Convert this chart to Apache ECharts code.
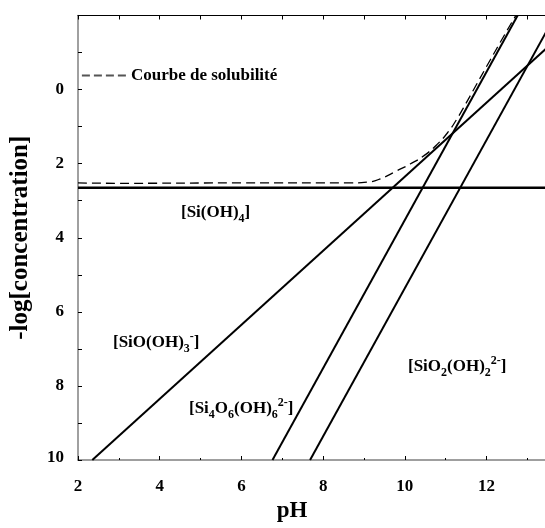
<!DOCTYPE html>
<html>
<head>
<meta charset="utf-8">
<script src="https://cdn.jsdelivr.net/npm/echarts@6/dist/echarts.min.js"></script>
<style>html,body{margin:0;padding:0;background:#fff}#c{width:545px;height:528px}</style>
</head>
<body>
<div id="c"></div>
<script>
// pH values and -log[concentration] values
const siOH4_pH = [2, 14];
const siOH4_val = [2.65, 2.65];
const siOOH3_pH = [2.35, 14];
const siOOH3_val = [10, -1.65];
const si4O6_pH = [6.76, 12.76];
const si4O6_val = [10, -2];
const siO2OH2_pH = [7.68, 13.68];
const siO2OH2_val = [10, -2];
const solub_pH = [2, 3, 6, 8.7, 9.08, 9.40, 9.81, 10.13, 10.46, 10.79, 11.07, 11.27, 11.43, 11.76, 12.09, 12.41, 12.70, 12.72];
const solub_val = [2.52, 2.53, 2.52, 2.52, 2.50, 2.41, 2.19, 2.01, 1.79, 1.48, 1.13, 0.80, 0.50, -0.15, -0.80, -1.42, -1.97, -2];
const xTicks = [2, 4, 6, 8, 10, 12];
const yTicks = [0, 2, 4, 6, 8, 10];
const legendName = 'Courbe de solubilité';

const zip = (a, b) => a.map((v, i) => [v, b[i]]);
const FONT = 'Liberation Serif';
const XMAX = 13.43;
const chart = echarts.init(document.getElementById('c'), null, {renderer: 'canvas'});

const rich = {
  b: {fontFamily: FONT, fontWeight: 'bold', fontSize: 17, color: '#000', verticalAlign: 'middle', lineHeight: 24},
  s: {fontFamily: FONT, fontWeight: 'bold', fontSize: 12, color: '#000', verticalAlign: 'bottom', lineHeight: 24},
  p: {fontFamily: FONT, fontWeight: 'bold', fontSize: 12, color: '#000', verticalAlign: 'top', lineHeight: 24}
};
function lab(x, y, text) {
  return {type: 'text', x: x, y: y, silent: true, style: {text: text, rich: rich, align: 'left', verticalAlign: 'middle'}};
}

const solid = (name, d, w) => ({
  name: name, type: 'line', data: d, symbol: 'none', silent: true, clip: true,
  lineStyle: {color: '#000', width: w}, itemStyle: {color: '#000'}, z: 3
});

chart.setOption({
  animation: false,
  backgroundColor: '#fff',
  grid: {left: 76.5, right: 0, top: 15.5, bottom: 60.5, containLabel: false},
  legend: {
    data: [legendName], left: 81, top: 67, padding: 0, itemWidth: 44, itemHeight: 14, itemGap: 6,
    selectedMode: false,
    itemStyle: {opacity: 0},
    lineStyle: {color: '#555', width: 1.8, type: [8, 4]},
    textStyle: {fontFamily: FONT, fontWeight: 'bold', fontSize: 17, color: '#000'}
  },
  xAxis: [{
    type: 'value', min: 2, max: XMAX, interval: 1,
    name: 'pH', nameLocation: 'middle', nameGap: 40,
    nameTextStyle: {fontFamily: FONT, fontWeight: 'bold', fontSize: 23, color: '#000', padding: [0, 39, 0, 0]},
    axisLine: {show: true, onZero: false, lineStyle: {color: '#808080', width: 1.5}},
    axisTick: {show: true, inside: true, length: 2, lineStyle: {color: '#000', width: 1}},
    splitLine: {show: false},
    axisLabel: {margin: 18, fontFamily: FONT, fontWeight: 'bold', fontSize: 17, color: '#000',
      showMaxLabel: false,
      formatter: v => xTicks.indexOf(v) >= 0 ? String(v) : ''}
  }, {
    type: 'value', position: 'top', min: 2, max: XMAX, interval: 1,
    axisLine: {show: true, onZero: false, lineStyle: {color: '#000', width: 1}},
    axisTick: {show: true, inside: true, length: 4, lineStyle: {color: '#000', width: 1}},
    axisLabel: {show: false}, splitLine: {show: false}
  }, {
    type: 'value', position: 'bottom', min: 2, max: XMAX, interval: 2,
    axisLine: {show: false, onZero: false},
    axisTick: {show: true, inside: true, length: 4, lineStyle: {color: '#000', width: 1}},
    axisLabel: {show: false}, splitLine: {show: false}
  }],
  yAxis: {
    type: 'value', min: -2, max: 10, interval: 2, inverse: true,
    name: '-log[concentration]', nameLocation: 'middle', nameGap: 45, nameRotate: 90,
    nameTextStyle: {fontFamily: FONT, fontWeight: 'bold', fontSize: 25, color: '#000'},
    axisLine: {show: true, onZero: false, lineStyle: {color: '#808080', width: 1.5}},
    axisTick: {show: true, inside: true, length: 4, lineStyle: {color: '#000', width: 1}},
    minorTick: {show: true, splitNumber: 2, length: 4, lineStyle: {color: '#000', width: 1}},
    splitLine: {show: false},
    axisLabel: {margin: 14, fontFamily: FONT, fontWeight: 'bold', fontSize: 17, color: '#000',
      formatter: v => v === 10 ? '{u|10}' : (yTicks.indexOf(v) >= 0 ? String(v) : ''),
      rich: {u: {fontFamily: FONT, fontWeight: 'bold', fontSize: 17, color: '#000', padding: [0, 0, 5, 0]}}}
  },
  series: [
    solid('Si(OH)4', zip(siOH4_pH, siOH4_val), 2.4),
    solid('SiO(OH)3', zip(siOOH3_pH, siOOH3_val), 2),
    solid('Si4O6(OH)6', zip(si4O6_pH, si4O6_val), 2),
    solid('SiO2(OH)2', zip(siO2OH2_pH, siO2OH2_val), 2),
    {
      name: legendName, type: 'line', data: zip(solub_pH, solub_val), symbol: 'none', silent: true,
      smooth: 0.5, clip: true, z: 4,
      itemStyle: {color: '#000'},
      lineStyle: {color: '#000', width: 1.3, type: [9, 5]}
    }
  ],
  graphic: [
    lab(181, 213, '{b|[Si(OH)}{s|4}{b|]}'),
    lab(113, 343, '{b|[SiO(OH)}{s|3}{p|-}{b|]}'),
    lab(189, 409, '{b|[Si}{s|4}{b|O}{s|6}{b|(OH)}{s|6}{p|2-}{b|]}'),
    lab(408, 367, '{b|[SiO}{s|2}{b|(OH)}{s|2}{p|2-}{b|]}')
  ]
});
</script>
</body>
</html>
